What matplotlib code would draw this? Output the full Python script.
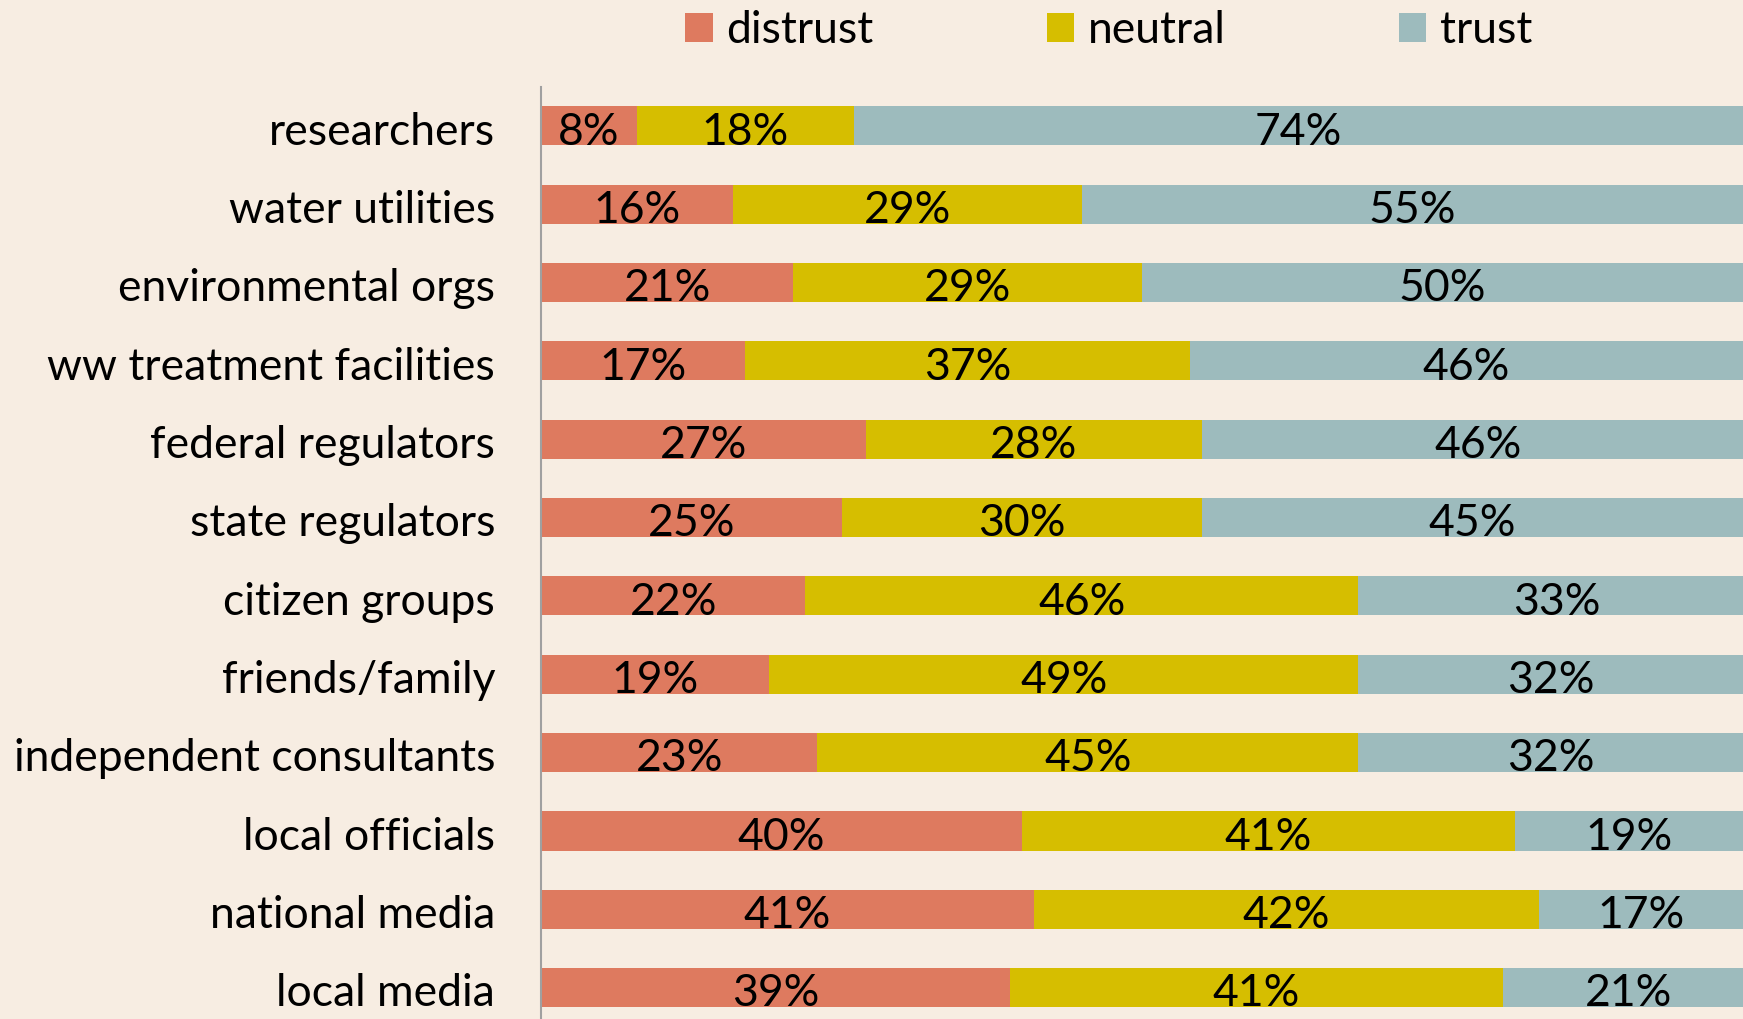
import matplotlib.pyplot as plt
import matplotlib.transforms as mtransforms
import numpy as np

sources = ["researchers", "water utilities", "environmental orgs",
           "ww treatment facilities", "federal regulators", "state regulators",
           "citizen groups", "friends/family", "independent consultants",
           "local officials", "national media", "local media"]
distrust = [8, 16, 21, 17, 27, 25, 22, 19, 23, 40, 41, 39]
neutral = [18, 29, 29, 37, 28, 30, 46, 49, 45, 41, 42, 41]
trust = [74, 55, 50, 46, 46, 45, 33, 32, 32, 19, 17, 21]

series = ["distrust", "neutral", "trust"]
colors = ["#DE7A5F", "#D6BE00", "#9DBBBD"]
bg = "#F7EDE2"

plt.rcParams['font.family'] = ['Lato', 'DejaVu Sans']
fs = 32

fig = plt.figure(figsize=(17.43, 10.19), dpi=100, facecolor=bg)
ax = fig.add_axes([0.3104, 0.0, 0.6896, 0.915])
ax.set_facecolor(bg)

y = np.arange(len(sources))
left = np.zeros(len(sources))
for name, vals, col in zip(series, [distrust, neutral, trust], colors):
    vals = np.array(vals)
    ax.barh(y, vals, left=left, height=0.5, color=col, label=name)
    for yi, l, v in zip(y, left, vals):
        ax.text(l + v / 2, yi + 0.24, f"{v}%", ha="center", va="baseline",
                fontsize=fs, color="black")
    left = left + vals

ax.set_xlim(0, 100)
ax.set_ylim(11.4, -0.5)
ax.set_yticks(y)
ax.set_yticklabels(sources, fontsize=fs, va="baseline")
ax.tick_params(axis="y", length=0, pad=33)
shift = mtransforms.ScaledTranslation(0, -0.188, fig.dpi_scale_trans)
for lab in ax.get_yticklabels():
    lab.set_transform(lab.get_transform() + shift)
ax.set_xticks([])
for s in ["top", "right", "bottom"]:
    ax.spines[s].set_visible(False)
ax.spines["left"].set_color("#A0A0A0")
ax.spines["left"].set_linewidth(1.5)

fig.legend(loc="center", bbox_to_anchor=(0.636, 0.970), ncol=3, frameon=False,
           fontsize=fs, handlelength=0.62, handleheight=0.62,
           handletextpad=0.3, columnspacing=3.9)

fig.savefig("out.png", dpi=100, facecolor=bg)
